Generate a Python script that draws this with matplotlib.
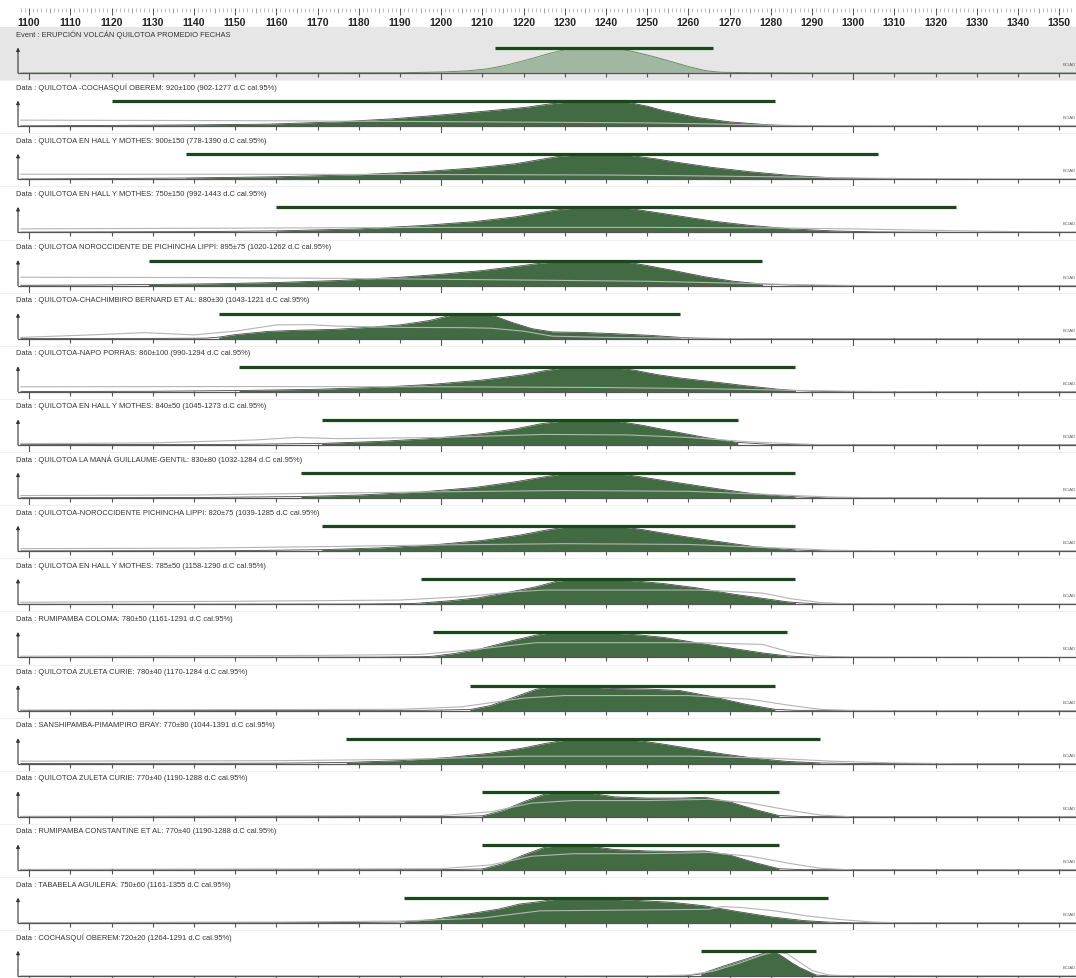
import matplotlib.pyplot as plt
import matplotlib.transforms as mtransforms

# ---- data ----
labels = [
    'Event : ERUPCIÓN VOLCÁN QUILOTOA PROMEDIO FECHAS',
    'Data : QUILOTOA -COCHASQUÍ OBEREM: 920±100 (902-1277 d.C cal.95%)',
    'Data : QUILOTOA EN HALL Y MOTHES: 900±150 (778-1390 d.C cal.95%)',
    'Data : QUILOTOA EN HALL Y MOTHES: 750±150 (992-1443 d.C cal.95%)',
    'Data : QUILOTOA NOROCCIDENTE DE PICHINCHA LIPPI: 895±75 (1020-1262 d.C cal.95%)',
    'Data : QUILOTOA-CHACHIMBIRO BERNARD ET AL: 880±30 (1043-1221 d.C cal.95%)',
    'Data : QUILOTOA-NAPO PORRAS: 860±100 (990-1294 d.C cal.95%)',
    'Data : QUILOTOA EN HALL Y MOTHES: 840±50 (1045-1273 d.C cal.95%)',
    'Data : QUILOTOA LA MANÁ GUILLAUME-GENTIL: 830±80 (1032-1284 d.C cal.95%)',
    'Data : QUILOTOA-NOROCCIDENTE PICHINCHA LIPPI: 820±75 (1039-1285 d.C cal.95%)',
    'Data : QUILOTOA EN HALL Y MOTHES: 785±50 (1158-1290 d.C cal.95%)',
    'Data : RUMIPAMBA COLOMA: 780±50 (1161-1291 d.C cal.95%)',
    'Data : QUILOTOA ZULETA CURIE: 780±40 (1170-1284 d.C cal.95%)',
    'Data : SANSHIPAMBA-PIMAMPIRO BRAY: 770±80 (1044-1391 d.C cal.95%)',
    'Data : QUILOTOA ZULETA CURIE: 770±40 (1190-1288 d.C cal.95%)',
    'Data : RUMIPAMBA CONSTANTINE ET AL: 770±40 (1190-1288 d.C cal.95%)',
    'Data : TABABELA AGUILERA: 750±60 (1161-1355 d.C cal.95%)',
    'Data : COCHASQUÍ OBEREM:720±20 (1264-1291 d.C cal.95%)',
]

hpd_from = [1213, 1120, 1138, 1160, 1129, 1146, 1151, 1171, 1166, 1171,
            1195, 1198, 1207, 1177, 1210, 1210, 1191, 1263]
hpd_to = [1266, 1281, 1306, 1325, 1278, 1258, 1286, 1272, 1286, 1286,
          1286, 1284, 1281, 1292, 1282, 1282, 1294, 1291]

post_years = [
    [1098, 1190, 1200, 1206, 1211, 1213, 1216, 1221, 1226, 1231, 1236, 1242, 1246, 1251, 1256, 1260, 1264, 1266, 1268, 1275, 1290, 1354],
    [1098, 1110, 1120, 1140, 1158, 1175, 1188, 1198, 1206, 1214, 1221, 1226, 1231, 1238, 1245, 1250, 1254, 1262, 1270, 1278, 1281, 1286, 1295, 1354],
    [1098, 1120, 1138, 1160, 1180, 1195, 1208, 1218, 1223, 1228, 1233, 1240, 1246, 1252, 1258, 1266, 1275, 1285, 1295, 1306, 1315, 1354],
    [1098, 1140, 1160, 1180, 1195, 1208, 1218, 1223, 1228, 1233, 1240, 1246, 1252, 1258, 1266, 1275, 1285, 1295, 1305, 1315, 1325, 1354],
    [1098, 1115, 1129, 1145, 1160, 1175, 1190, 1200, 1210, 1218, 1224, 1230, 1238, 1245, 1250, 1257, 1264, 1271, 1278, 1285, 1295, 1354],
    [1098, 1130, 1143, 1146, 1150, 1158, 1166, 1174, 1182, 1190, 1197, 1202, 1205, 1210, 1213, 1217, 1222, 1227, 1234, 1242, 1251, 1258, 1262, 1268, 1354],
    [1098, 1130, 1151, 1170, 1185, 1198, 1210, 1220, 1225, 1230, 1236, 1242, 1247, 1252, 1258, 1266, 1274, 1282, 1286, 1292, 1300, 1354],
    [1098, 1150, 1171, 1185, 1198, 1210, 1218, 1224, 1230, 1237, 1243, 1249, 1256, 1264, 1272, 1280, 1290, 1354],
    [1098, 1140, 1166, 1180, 1195, 1208, 1218, 1224, 1229, 1236, 1243, 1248, 1254, 1260, 1268, 1276, 1286, 1294, 1354],
    [1098, 1150, 1171, 1185, 1198, 1210, 1219, 1225, 1230, 1237, 1244, 1249, 1254, 1260, 1268, 1276, 1286, 1294, 1354],
    [1098, 1180, 1193, 1195, 1202, 1209, 1217, 1223, 1228, 1232, 1240, 1246, 1254, 1262, 1270, 1278, 1284, 1286, 1292, 1354],
    [1098, 1185, 1196, 1198, 1203, 1209, 1217, 1223, 1227, 1234, 1242, 1248, 1254, 1262, 1270, 1278, 1283, 1284, 1290, 1354],
    [1098, 1195, 1207, 1212, 1218, 1223, 1228, 1234, 1242, 1250, 1258, 1266, 1274, 1281, 1286, 1354],
    [1098, 1160, 1177, 1190, 1202, 1212, 1220, 1225, 1230, 1237, 1244, 1249, 1254, 1260, 1268, 1276, 1284, 1292, 1300, 1354],
    [1098, 1200, 1210, 1215, 1220, 1225, 1230, 1236, 1242, 1250, 1258, 1264, 1270, 1276, 1282, 1288, 1354],
    [1098, 1200, 1210, 1215, 1220, 1225, 1230, 1236, 1242, 1250, 1258, 1264, 1270, 1276, 1282, 1288, 1354],
    [1098, 1175, 1189, 1191, 1198, 1206, 1214, 1219, 1224, 1229, 1235, 1240, 1248, 1256, 1264, 1272, 1280, 1288, 1294, 1300, 1354],
    [1098, 1255, 1259, 1263, 1269, 1274, 1278, 1280, 1282, 1285, 1287, 1291, 1294, 1354],
]
post_dens = [
    [0.0, 0.01, 0.04, 0.08, 0.16, 0.22, 0.32, 0.53, 0.77, 0.97, 1.0, 0.98, 0.88, 0.68, 0.45, 0.26, 0.1, 0.06, 0.03, 0.01, 0.0, 0.0],
    [0.01, 0.02, 0.03, 0.05, 0.08, 0.17, 0.29, 0.42, 0.53, 0.65, 0.76, 0.88, 0.97, 1.0, 0.96, 0.8, 0.62, 0.35, 0.17, 0.07, 0.04, 0.01, 0.0, 0.0],
    [0.01, 0.03, 0.05, 0.1, 0.18, 0.3, 0.45, 0.62, 0.76, 0.9, 0.98, 1.0, 0.95, 0.82, 0.66, 0.47, 0.3, 0.15, 0.06, 0.02, 0.0, 0.0],
    [0.01, 0.03, 0.06, 0.14, 0.27, 0.43, 0.62, 0.76, 0.9, 0.98, 1.0, 0.95, 0.8, 0.65, 0.45, 0.28, 0.14, 0.06, 0.02, 0.01, 0.0, 0.0],
    [0.01, 0.02, 0.04, 0.07, 0.12, 0.2, 0.33, 0.45, 0.6, 0.76, 0.89, 0.98, 1.0, 0.94, 0.8, 0.58, 0.35, 0.17, 0.06, 0.02, 0.0, 0.0],
    [0.0, 0.01, 0.02, 0.06, 0.16, 0.29, 0.34, 0.37, 0.45, 0.55, 0.72, 0.92, 1.0, 1.0, 0.9, 0.66, 0.4, 0.27, 0.25, 0.2, 0.13, 0.05, 0.02, 0.0, 0.0],
    [0.01, 0.02, 0.05, 0.1, 0.18, 0.3, 0.47, 0.68, 0.84, 0.96, 1.0, 0.97, 0.86, 0.7, 0.55, 0.4, 0.24, 0.1, 0.05, 0.02, 0.0, 0.0],
    [0.01, 0.02, 0.06, 0.14, 0.26, 0.45, 0.64, 0.84, 0.97, 1.0, 0.94, 0.78, 0.55, 0.3, 0.1, 0.02, 0.0, 0.0],
    [0.01, 0.02, 0.06, 0.12, 0.24, 0.42, 0.65, 0.82, 0.95, 1.0, 0.97, 0.86, 0.7, 0.55, 0.35, 0.17, 0.05, 0.0, 0.0],
    [0.01, 0.02, 0.06, 0.13, 0.25, 0.43, 0.64, 0.83, 0.96, 1.0, 0.97, 0.86, 0.72, 0.56, 0.37, 0.18, 0.05, 0.0, 0.0],
    [0.0, 0.01, 0.03, 0.05, 0.14, 0.26, 0.5, 0.7, 0.92, 1.0, 1.0, 0.95, 0.83, 0.66, 0.43, 0.24, 0.1, 0.07, 0.01, 0.0],
    [0.0, 0.01, 0.03, 0.05, 0.15, 0.32, 0.66, 0.89, 1.0, 1.0, 0.97, 0.9, 0.8, 0.59, 0.38, 0.18, 0.08, 0.06, 0.01, 0.0],
    [0.0, 0.01, 0.04, 0.2, 0.55, 0.85, 1.0, 0.97, 0.88, 0.86, 0.8, 0.55, 0.25, 0.05, 0.01, 0.0],
    [0.01, 0.02, 0.05, 0.12, 0.25, 0.42, 0.63, 0.8, 0.94, 1.0, 0.98, 0.9, 0.78, 0.62, 0.4, 0.22, 0.09, 0.03, 0.01, 0.0],
    [0.0, 0.01, 0.04, 0.25, 0.6, 0.9, 1.0, 0.95, 0.8, 0.75, 0.75, 0.78, 0.6, 0.3, 0.05, 0.01, 0.0],
    [0.0, 0.01, 0.04, 0.25, 0.6, 0.9, 1.0, 0.95, 0.82, 0.76, 0.74, 0.76, 0.6, 0.3, 0.05, 0.01, 0.0],
    [0.0, 0.02, 0.04, 0.05, 0.14, 0.35, 0.56, 0.76, 0.86, 0.98, 1.0, 0.97, 0.9, 0.83, 0.69, 0.46, 0.25, 0.1, 0.04, 0.01, 0.0],
    [0.0, 0.0, 0.01, 0.09, 0.43, 0.69, 0.9, 1.0, 0.88, 0.55, 0.35, 0.05, 0.01, 0.0],
]

prior_years = [
    [],
    [1098, 1150, 1200, 1230, 1250, 1265, 1280, 1295, 1310, 1354],
    [1098, 1150, 1200, 1240, 1260, 1280, 1300, 1320, 1340, 1354],
    [1098, 1150, 1200, 1250, 1280, 1300, 1320, 1340, 1354],
    [1098, 1140, 1180, 1220, 1250, 1270, 1285, 1300, 1354],
    [1098, 1115, 1128, 1140, 1150, 1160, 1168, 1175, 1190, 1205, 1212, 1220, 1227, 1240, 1260, 1275, 1354],
    [1098, 1150, 1200, 1240, 1265, 1285, 1300, 1320, 1354],
    [1098, 1130, 1155, 1165, 1175, 1200, 1225, 1245, 1260, 1275, 1290, 1300, 1354],
    [1098, 1140, 1165, 1200, 1230, 1260, 1280, 1295, 1310, 1354],
    [1098, 1140, 1170, 1200, 1230, 1260, 1280, 1295, 1310, 1354],
    [1098, 1150, 1190, 1205, 1218, 1225, 1262, 1270, 1278, 1285, 1292, 1300, 1310, 1354],
    [1098, 1170, 1195, 1210, 1223, 1262, 1278, 1285, 1292, 1300, 1354],
    [1098, 1190, 1205, 1220, 1230, 1260, 1275, 1285, 1292, 1300, 1354],
    [1098, 1160, 1190, 1220, 1260, 1280, 1295, 1310, 1325, 1354],
    [1098, 1200, 1212, 1222, 1232, 1250, 1265, 1275, 1285, 1292, 1300, 1354],
    [1098, 1200, 1212, 1222, 1232, 1250, 1265, 1275, 1285, 1292, 1300, 1354],
    [1098, 1160, 1190, 1210, 1224, 1265, 1268, 1273, 1281, 1289, 1297, 1305, 1315, 1354],
    [1098, 1250, 1260, 1266, 1272, 1278, 1281, 1284, 1287, 1290, 1294, 1300, 1354],
]
prior_dens = [
    [],
    [0.24, 0.22, 0.18, 0.15, 0.13, 0.09, 0.04, 0.01, 0.0, 0.0],
    [0.2, 0.2, 0.19, 0.17, 0.14, 0.1, 0.05, 0.02, 0.0, 0.0],
    [0.14, 0.17, 0.2, 0.2, 0.18, 0.14, 0.08, 0.03, 0.01],
    [0.33, 0.32, 0.28, 0.22, 0.17, 0.1, 0.04, 0.0, 0.0],
    [0.05, 0.15, 0.24, 0.15, 0.3, 0.55, 0.56, 0.5, 0.45, 0.44, 0.42, 0.3, 0.1, 0.05, 0.02, 0.0, 0.0],
    [0.2, 0.21, 0.2, 0.17, 0.12, 0.06, 0.02, 0.0, 0.0],
    [0.05, 0.08, 0.2, 0.3, 0.25, 0.3, 0.42, 0.4, 0.3, 0.12, 0.02, 0.0, 0.0],
    [0.1, 0.12, 0.18, 0.25, 0.3, 0.27, 0.14, 0.04, 0.0, 0.0],
    [0.1, 0.12, 0.18, 0.25, 0.3, 0.27, 0.14, 0.04, 0.0, 0.0],
    [0.08, 0.12, 0.17, 0.3, 0.5, 0.57, 0.57, 0.52, 0.45, 0.22, 0.07, 0.01, 0.0, 0.0],
    [0.05, 0.08, 0.12, 0.35, 0.59, 0.59, 0.52, 0.2, 0.06, 0.0, 0.0],
    [0.02, 0.05, 0.15, 0.5, 0.6, 0.6, 0.45, 0.2, 0.05, 0.0, 0.0],
    [0.1, 0.12, 0.17, 0.3, 0.3, 0.22, 0.1, 0.03, 0.0, 0.0],
    [0.02, 0.05, 0.2, 0.55, 0.65, 0.65, 0.7, 0.55, 0.25, 0.07, 0.0, 0.0],
    [0.02, 0.05, 0.2, 0.55, 0.65, 0.65, 0.7, 0.55, 0.25, 0.07, 0.0, 0.0],
    [0.02, 0.04, 0.08, 0.2, 0.49, 0.55, 0.66, 0.62, 0.49, 0.28, 0.14, 0.04, 0.0, 0.0],
    [0.0, 0.01, 0.05, 0.2, 0.5, 0.85, 0.97, 0.9, 0.56, 0.23, 0.05, 0.0, 0.0],
]

ruler_years = list(range(1100, 1360, 10))

# ---- layout (pixels) ----
W, H = 1076, 979
X0 = 18                      # left edge of the time axis
YR0, YR1 = 1097.3, 1354.1    # years at x=18 and at the right edge
PANEL_TOP = 28
PANEL_H = 53.13
BASE_OFF = 46                # baseline below panel top
PEAK_PX = 25                 # height of a normalised peak

plt.rcParams['font.family'] = ['Liberation Sans', 'DejaVu Sans']

fig = plt.figure(figsize=(W / 100, H / 100), dpi=100)
fig.patch.set_facecolor('white')


def box(left, top, width, height):
    return [left / W, 1 - (top + height) / H, width / W, height / H]


# top ruler
rax = fig.add_axes(box(X0, 0, W - X0, PANEL_TOP))
rax.set_xlim(YR0, YR1)
rax.set_ylim(PANEL_TOP, 0)
rax.axis('off')
for yr in range(1098, 1355):
    if yr % 10 == 0:
        rax.vlines(yr, 9, 16, color='#555555', lw=0.7)
    elif yr % 5 == 0:
        rax.vlines(yr, 9, 14, color='#777777', lw=0.5)
    else:
        rax.vlines(yr, 9, 13, color='#888888', lw=0.4)
for yr in ruler_years:
    rax.text(yr, 23, str(yr), ha='center', va='center', fontsize=7.6,
             fontweight='bold', color='#222222', clip_on=False)
rax.axhline(PANEL_TOP - 0.5, color='#cfcfcf', lw=0.8)

ylo = -(PANEL_H - BASE_OFF) / PEAK_PX
yhi = BASE_OFF / PEAK_PX

for i, lab in enumerate(labels):
    top = PANEL_TOP + i * PANEL_H
    ax = fig.add_axes(box(X0, top, W - X0, PANEL_H))
    ax.set_xlim(YR0, YR1)
    ax.set_ylim(ylo, yhi)
    ax.axis('off')
    if i == 0:
        bg = fig.add_axes(box(0, top, W, PANEL_H), zorder=-1)
        bg.set_facecolor('#e6e6e6')
        bg.set_xticks([])
        bg.set_yticks([])
        for s in bg.spines.values():
            s.set_visible(False)
    else:
        fig.add_artist(plt.Line2D([0, 1], [1 - top / H] * 2, color='#ededed', lw=0.6))

    xs = post_years[i]
    ys = post_dens[i]
    s, e = hpd_from[i], hpd_to[i]
    if i == 0:
        ax.fill_between(xs, 0, ys, color='#a2b7a2', lw=0)
        ax.plot(xs, ys, color='#6f8d6f', lw=0.7)
    else:
        inside = [s <= x <= e for x in xs]
        ax.fill_between(xs, 0, ys, where=inside, color='#426b43', lw=0)
        ax.plot(xs, ys, color='#4a4a4a', lw=0.6)
        ax.plot(prior_years[i], prior_dens[i], color='#b4b4b4', lw=0.8)

    ax.hlines(1.0, s, e, color='#1c471c', lw=2.3, zorder=5)

    # axis line, ticks and arrow
    ax.axhline(0, color='#555555', lw=0.9)
    for yr in range(1100, 1355, 10):
        depth = 7 if yr % 100 == 0 else 4
        ax.vlines(yr, -depth / PEAK_PX, 0.02, color='#555555', lw=0.8)
    ax.annotate('', xy=(YR0, 1.02), xytext=(YR0, 0),
                arrowprops=dict(arrowstyle='-|>', color='#333333', lw=0.8,
                                mutation_scale=5, shrinkA=0, shrinkB=0),
                annotation_clip=False)
    tr = mtransforms.blended_transform_factory(ax.transAxes, ax.transData)
    ax.text(0.987, 0.36, 'BC/AD', transform=tr, fontsize=3.2, color='#555555',
            va='center', ha='left', clip_on=False)

    fig.text(16 / W, 1 - (top + 7) / H, lab, fontsize=5.4, color='#333333',
             ha='left', va='center')

fig.savefig('out.png', dpi=100)
